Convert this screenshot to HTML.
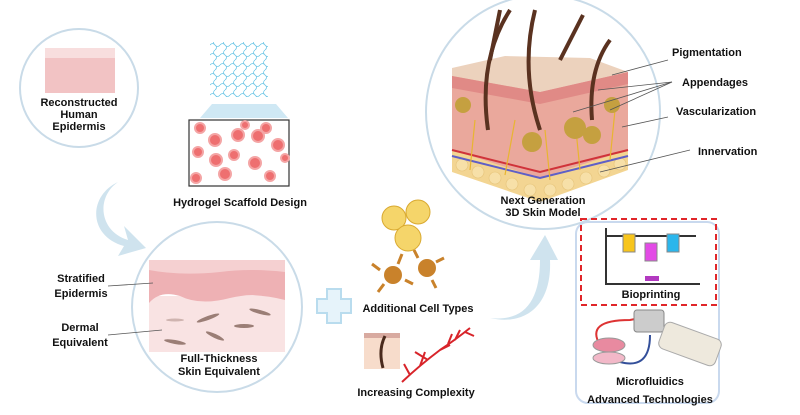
<!DOCTYPE html>
<html><head><meta charset="utf-8"><style>
html,body{margin:0;padding:0;background:#fff;}
svg{display:block;}
text{font-family:"Liberation Sans",sans-serif;font-weight:bold;font-size:11px;fill:#111;}
</style></head><body>
<svg width="800" height="415" viewBox="0 0 800 415" xmlns="http://www.w3.org/2000/svg">
<defs>
<pattern id="mesh" width="10" height="10" patternUnits="userSpaceOnUse">
<path d="M0 5 Q2.5 2 5 5 T10 5 M5 0 Q2 2.5 5 5 T5 10" stroke="#6cc6e6" stroke-width="0.8" fill="none"/>
</pattern>
</defs>
<circle cx="79" cy="88" r="59" fill="#fff" stroke="#c9dbe8" stroke-width="2"/>
<rect x="45" y="48" width="70" height="45" fill="#f2c3c4"/>
<rect x="45" y="48" width="70" height="10" fill="#f8dede"/>
<text x="79" y="106" text-anchor="middle">Reconstructed</text>
<text x="79" y="118" text-anchor="middle">Human</text>
<text x="79" y="130" text-anchor="middle">Epidermis</text>
<rect x="210" y="42" width="58" height="55" fill="url(#mesh)"/>
<polygon points="200,118 212,104 276,104 288,118" fill="#cfe8f4"/>
<rect x="189" y="120" width="100" height="66" fill="#fff" stroke="#333" stroke-width="1.2"/>
<g fill="#ee6f70" stroke="#f4a5a5" stroke-width="2">
<circle cx="200" cy="128" r="5"/><circle cx="215" cy="140" r="6"/><circle cx="238" cy="135" r="6"/><circle cx="258" cy="136" r="6"/><circle cx="278" cy="145" r="6"/><circle cx="198" cy="152" r="5"/><circle cx="216" cy="160" r="6"/><circle cx="234" cy="155" r="5"/><circle cx="255" cy="163" r="6"/><circle cx="225" cy="174" r="6"/><circle cx="270" cy="176" r="5"/><circle cx="196" cy="178" r="5"/><circle cx="285" cy="158" r="4"/><circle cx="245" cy="125" r="4"/><circle cx="266" cy="128" r="5"/>
</g>
<text x="240" y="206" text-anchor="middle">Hydrogel Scaffold Design</text>
<path d="M118 182 C95 198 100 232 128 240 L124 226 L146 248 L118 256 L124 246 C88 236 88 196 118 182 Z" fill="#cfe3ee"/>
<circle cx="217" cy="307" r="85" fill="#fff" stroke="#c9dbe8" stroke-width="2"/>
<rect x="149" y="296" width="136" height="56" fill="#f9e3e3"/>
<path d="M149 260 L285 260 L285 300 Q255 292 230 298 Q200 306 180 296 Q160 290 149 303 Z" fill="#eeb1b4"/>
<path d="M149 260 L285 260 L285 272 Q250 268 220 272 Q180 276 149 270 Z" fill="#f5d0d1"/>
<g fill="#9b7e76"><ellipse cx="208" cy="318" rx="12" ry="2" transform="rotate(-20 208 318)"/><ellipse cx="260" cy="312" rx="11" ry="2" transform="rotate(15 260 312)"/><ellipse cx="244" cy="326" rx="10" ry="2"/><ellipse cx="175" cy="342" rx="11" ry="2" transform="rotate(10 175 342)"/><ellipse cx="215" cy="336" rx="10" ry="2" transform="rotate(25 215 336)"/><ellipse cx="175" cy="320" rx="9" ry="1.5" fill="#cfb4b0"/></g>
<line x1="108" y1="286" x2="153" y2="283" stroke="#555" stroke-width="0.8"/>
<line x1="108" y1="335" x2="162" y2="330" stroke="#555" stroke-width="0.8"/>
<text x="81" y="282" text-anchor="middle">Stratified</text>
<text x="81" y="297" text-anchor="middle">Epidermis</text>
<text x="80" y="331" text-anchor="middle">Dermal</text>
<text x="80" y="346" text-anchor="middle">Equivalent</text>
<text x="219" y="362" text-anchor="middle">Full-Thickness</text>
<text x="219" y="375" text-anchor="middle">Skin Equivalent</text>
<path d="M327 289 h14 v10 h10 v14 h-10 v10 h-14 v-10 h-10 v-14 h10 z" fill="#e6f3fa" stroke="#b9dcee" stroke-width="2"/>
<g fill="#f5d56a" stroke="#d9a930"><circle cx="394" cy="218" r="12"/><circle cx="418" cy="212" r="12"/><circle cx="408" cy="238" r="13"/></g>
<g fill="#c9822b"><circle cx="393" cy="275" r="9"/><circle cx="427" cy="268" r="9"/><path d="M380 270 l-8 -6 M398 264 l4 -10 M405 280 l8 4 M384 284 l-6 8 M418 258 l-4 -8 M436 262 l8 -4 M432 280 l4 8" stroke="#c9822b" stroke-width="3"/></g>
<text x="418" y="312" text-anchor="middle">Additional Cell Types</text>
<rect x="364" y="333" width="36" height="36" fill="#f7dccb"/><rect x="364" y="333" width="36" height="5" fill="#d8aaa0"/>
<path d="M385 336 Q378 350 383 368" stroke="#4a2a1c" stroke-width="3" fill="none"/>
<path d="M402 382 Q420 365 440 350 Q455 340 470 328 M420 366 L425 352 M440 350 L450 345 M455 340 L460 330 M428 360 L415 352 M410 375 L404 364 M448 344 L452 334 M465 332 L474 336" stroke="#d8242a" stroke-width="2" fill="none"/>
<text x="416" y="396" text-anchor="middle">Increasing Complexity</text>
<path d="M490 318 C525 322 540 300 540 260 L530 260 L545 235 L558 260 L550 260 C552 306 525 326 490 318 Z" fill="#cfe3ee"/>
<circle cx="543" cy="112" r="117" fill="#fff" stroke="#c9dbe8" stroke-width="2"/>
<polygon points="452,72 452,160 540,192 628,160 628,72 540,92" fill="#eaa89c"/>
<polygon points="452,150 540,178 628,150 628,170 540,202 452,172" fill="#f3d592"/>
<g fill="#f7e0a8" stroke="#e6c47a" stroke-width="0.6"><circle cx="462" cy="165" r="6"/><circle cx="478" cy="172" r="6"/><circle cx="495" cy="178" r="6"/><circle cx="512" cy="184" r="6"/><circle cx="530" cy="190" r="6"/><circle cx="550" cy="190" r="6"/><circle cx="568" cy="184" r="6"/><circle cx="586" cy="178" r="6"/><circle cx="604" cy="171" r="6"/><circle cx="620" cy="164" r="6"/></g>
<polygon points="452,68 505,56 590,58 628,72 540,92 452,76" fill="#ecd2bd"/>
<polygon points="452,76 540,92 628,72 628,84 540,104 452,88" fill="#e08a86"/>
<path d="M452 150 L540 172 L628 150" stroke="#d0333a" stroke-width="2" fill="none"/>
<path d="M452 156 L540 178 L628 156" stroke="#5f5fc7" stroke-width="2" fill="none"/>
<g stroke="#e8b530" stroke-width="1.2" fill="none"><path d="M470 170 L475 120"/><path d="M505 175 L515 120"/><path d="M550 180 L545 130"/><path d="M580 170 L575 120"/><path d="M610 160 L615 110"/></g>
<g stroke="#5a3220" stroke-width="4" fill="none"><path d="M490 60 L500 10"/><path d="M540 130 Q520 70 535 10"/><path d="M488 130 Q478 60 510 10"/><path d="M560 60 L583 15"/><path d="M592 120 Q588 70 610 40"/></g>
<g fill="#c5a040"><circle cx="532" cy="142" r="10"/><circle cx="575" cy="128" r="11"/><circle cx="592" cy="135" r="9"/><circle cx="463" cy="105" r="8"/><circle cx="612" cy="105" r="8"/></g>
<text x="543" y="204" text-anchor="middle">Next Generation</text>
<text x="543" y="216" text-anchor="middle">3D Skin Model</text>
<g stroke="#555" stroke-width="0.8"><line x1="668" y1="60" x2="612" y2="75"/><line x1="672" y1="82" x2="598" y2="90"/><line x1="672" y1="82" x2="573" y2="112"/><line x1="672" y1="82" x2="610" y2="110"/><line x1="668" y1="117" x2="622" y2="127"/><line x1="690" y1="150" x2="600" y2="172"/></g>
<text x="672" y="56">Pigmentation</text>
<text x="682" y="86">Appendages</text>
<text x="676" y="115">Vascularization</text>
<text x="698" y="155">Innervation</text>
<rect x="576" y="222" width="143" height="181" rx="12" fill="#fff" stroke="#c9d9ee" stroke-width="2"/>
<rect x="581" y="219" width="135" height="86" fill="none" stroke="#e0262a" stroke-width="2" stroke-dasharray="6,4"/>
<path d="M606 228 V284 H700 M606 236 H696" stroke="#333" stroke-width="2" fill="none"/>
<rect x="623" y="234" width="12" height="18" fill="#f7c51c" stroke="#888"/><rect x="645" y="243" width="12" height="18" fill="#e34be6" stroke="#888"/><rect x="667" y="234" width="12" height="18" fill="#2bb6ec" stroke="#888"/>
<rect x="645" y="276" width="14" height="5" fill="#b239c0"/>
<text x="651" y="298" text-anchor="middle">Bioprinting</text>
<path d="M600 345 Q585 320 630 320 L640 318" stroke="#d33" stroke-width="2" fill="none"/>
<path d="M620 362 Q650 370 650 335" stroke="#334f9a" stroke-width="2" fill="none"/>
<ellipse cx="609" cy="345" rx="16" ry="7" fill="#e88aa0" stroke="#999"/>
<ellipse cx="609" cy="358" rx="16" ry="6" fill="#f2b8c8" stroke="#999"/>
<rect x="634" y="310" width="30" height="22" rx="3" fill="#ccc" stroke="#888"/>
<rect x="660" y="330" width="60" height="28" rx="6" fill="#eee9dd" stroke="#aaa" transform="rotate(20 690 344)"/>
<text x="650" y="385" text-anchor="middle">Microfluidics</text>
<text x="650" y="403" text-anchor="middle">Advanced Technologies</text>
</svg>
</body></html>
